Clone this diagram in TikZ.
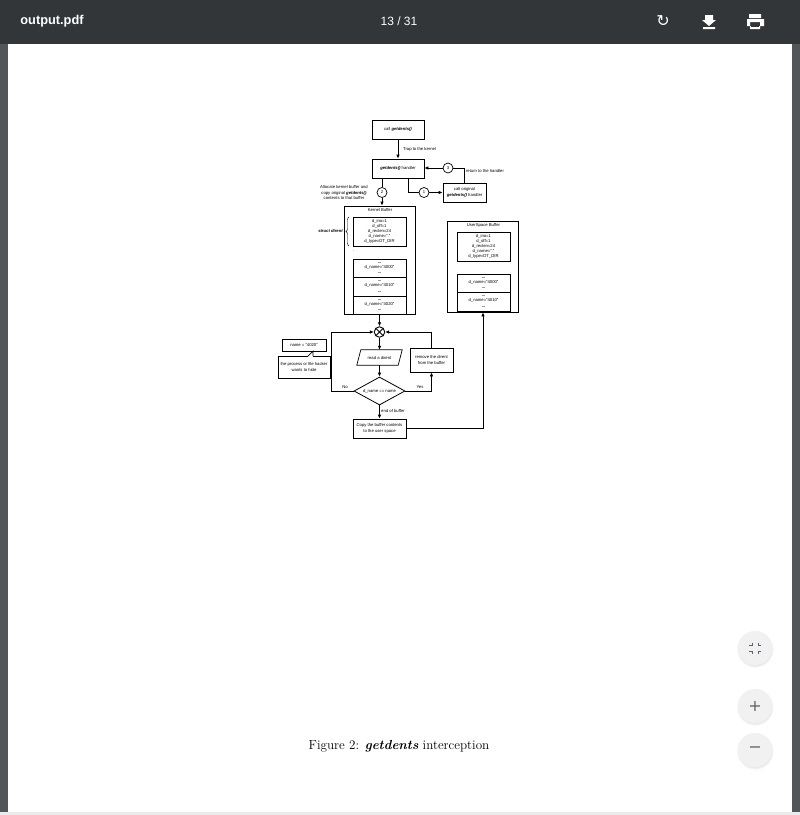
\documentclass[tikz,border=0pt]{standalone}
\usepackage{fontspec}
\setmainfont{Liberation Sans}
\newfontfamily\capfont{Latin Modern Roman}
\newfontfamily\uifont{Liberation Sans}
\newfontfamily\symfont{DejaVu Sans}
\usetikzlibrary{shapes.geometric, arrows.meta, positioning, calc, decorations.pathreplacing, shadows}
\definecolor{barraVisor}{HTML}{323639}
\definecolor{bordeVisor}{HTML}{525659}
\definecolor{botonVisor}{HTML}{F1F1F1}
\definecolor{iconoVisor}{HTML}{5F6368}

\begin{document}
\begin{tikzpicture}[x=1pt, y=-1pt, font=\fontsize{4.2}{5.2}\selectfont, >=Latex,
        box/.style={draw, line width=0.8pt, align=center, inner sep=0pt},
        cell/.style={box, minimum width=53pt},
        num/.style={draw, circle, line width=0.7pt, minimum size=10pt, inner sep=0pt, fill=white},
        lbl/.style={align=center, inner sep=0pt},
        flow/.style={-{Latex[length=4pt,width=3.6pt]}, line width=0.8pt},
        seg/.style={line width=0.8pt},
        boton/.style={circle, fill=botonVisor, circular drop shadow={shadow xshift=0pt, shadow yshift=-1pt, opacity=0.18}, minimum size=34pt, inner sep=0pt, text=iconoVisor}]
        \useasboundingbox (0,0) rectangle (800,815);
        % visor
        \fill[bordeVisor] (0,0) rectangle (800,815);
        \fill[white] (8,44) rectangle (792,812);
        \fill[black!8] (0,812) rectangle (800,815);
        \fill[barraVisor] (0,0) rectangle (800,44);
        \node[text=white, font=\uifont\bfseries\fontsize{12.8}{14}\selectfont] (file) at (52,21) {output.pdf};
        \node[text=white, font=\uifont\fontsize{12}{14}\selectfont] (page) at (399,21) {13 / 31};
        \node[text=white, font=\symfont\fontsize{16}{16}\selectfont] (rot) at (663,21) {↻};
        \fill[white] (705,15) rectangle (713,20) (702,20) -- (716,20) -- (709,26) -- cycle (703,27) rectangle (715,29);
        \fill[white, even odd rule] (749,14) rectangle (761,18) (747,19) rectangle (764,26) (750,22) rectangle (760,29);
        \fill[white] (751,24) rectangle (759,28);
        \fill[barraVisor] (751,24) rectangle (759,26.5);
        \node[boton] (fit) at (755,648) {};
        \draw[iconoVisor, line width=1pt] (749,645) -- (752,645) -- (752,642.5) (758,642.5) -- (758,645) -- (761,645) (749,651) -- (752,651) -- (752,653.5) (758,653.5) -- (758,651) -- (761,651);
        \node[boton, font=\symfont\fontsize{16}{16}\selectfont] (plus) at (755,706) {+};
        \node[boton, font=\symfont\fontsize{16}{16}\selectfont] (minus) at (755,750) {−};
        \node[font=\capfont\fontsize{13.1}{15}\selectfont] (cap) at (399,746) {Figure 2: \textbf{\textit{getdents}} interception};
        % arriba
        \node[box, minimum width=52pt, minimum height=19pt] (call) at (398,129.5) {call \textbf{\textit{getdents()}}};
        \node[box, minimum width=52pt, minimum height=19pt] (hand) at (398,168.5) {\textbf{\textit{getdents()}} handler};
        \node[box, minimum width=43pt, minimum height=19pt] (orig) at (464.5,192.5) {call original\\\textbf{\textit{getdents()}} handler};
        \node[num] (n3) at (448,168) {3};
        \node[num] (n1) at (424,192.5) {1};
        \node[num] (n2) at (382,192.5) {2};
        \node[lbl] (trap) at (419.5,149) {Trap to the kernel};
        \node[lbl] (ret) at (485,171) {return to the handler};
        \node[lbl] (alloc) at (344,192.5) {Allocate kernel buffer and\\copy original \textbf{\textit{getdents()}}\\contents to that buffer};
        % kernel
        \node[box, minimum width=71pt, minimum height=108pt] (kbuf) at (379.5,260) {};
        \node[lbl] (ktit) at (380,210) {Kernel Buffer};
        \node[cell, minimum height=29pt] (kd) at (379.5,231.5) {d\_ino=1\\d\_off=1\\d\_reclen=24\\d\_name="."\\d\_type=DT\_DIR};
        \node[lbl] (dots) at (353.5,251) {.};
        \node[cell, minimum height=18pt] (k1) at (379.5,268) {\textbf{...}\\d\_name="4000"\\\textbf{...}};
        \node[cell, minimum height=19pt] (k2) at (379.5,286.5) {\textbf{...}\\d\_name="4010"\\\textbf{...}};
        \node[cell, minimum height=18pt] (k3) at (379.5,305) {\textbf{...}\\d\_name="4020"\\\textbf{...}};
        \node[lbl, font=\fontsize{4.2}{5.2}\selectfont\itshape\bfseries] (sd) at (330.5,231) {struct dirent};
        \coordinate (ba) at (349,217);
        \coordinate (bb) at (349,246);
        \draw[line width=0.4pt, decorate, decoration={brace, amplitude=3pt}] (bb) -- (ba);
        % usuario
        \node[box, minimum width=71pt, minimum height=91pt] (ubuf) at (483,266.5) {};
        \node[lbl] (utit) at (483.5,225) {UserSpace Buffer};
        \node[cell, minimum height=29pt] (ud) at (483.5,246.5) {d\_ino=1\\d\_off=1\\d\_reclen=24\\d\_name="."\\d\_type=DT\_DIR};
        \node[cell, minimum height=18pt] (u1) at (483.5,283) {\textbf{...}\\d\_name="4000"\\\textbf{...}};
        \node[cell, minimum height=19pt] (u2) at (483.5,301.5) {\textbf{...}\\d\_name="4010"\\\textbf{...}};
        % bucle
        \node[draw, circle, line width=0.9pt, minimum size=10.5pt, inner sep=0pt,
            path picture={\draw[line width=0.9pt] (path picture bounding box.north west) -- (path picture bounding box.south east) (path picture bounding box.north east) -- (path picture bounding box.south west);}] (x) at (379.5,332) {};
        \node[lbl, minimum width=41pt, minimum height=15pt] (read) at (379.5,357.5) {read a dirent};
        \draw[line width=0.7pt] ($(read.north west)+(2,0)$) -- ($(read.north east)+(2,0)$) -- ($(read.south east)+(-2,0)$) -- ($(read.south west)+(-2,0)$) -- cycle;
        \node[draw, diamond, aspect=2, line width=0.8pt, minimum width=51pt, minimum height=28pt, inner sep=0pt] (cmp) at (379.5,391) {d\_name == name};
        \node[box, minimum width=43pt, minimum height=24pt] (rem) at (431.5,360) {remove the dirent\\from the buffer};
        \node[box, minimum width=53pt, minimum height=19pt] (copy) at (379.5,428.5) {Copy the buffer contents\\to the user space};
        \node[lbl] (no) at (345,387) {No};
        \node[lbl] (yes) at (420,387) {Yes};
        \node[lbl] (eob) at (393,411) {end of buffer};
        \node[box, line width=0.7pt, minimum width=52pt, minimum height=22pt] (proc) at (304,367) {the process or file hacker\\wants to hide};
        \node[box, line width=0.7pt, minimum width=44pt, minimum height=12pt] (nm) at (304,345) {name = "4020"};
        \coordinate (pa) at (308,356);
        \coordinate (pb) at (313,351);
        \coordinate (pc) at (313,356);
        \draw[white, line width=1pt] (pa) -- (pc);
        \draw[line width=0.7pt] (pa) -- (pb) -- (pc);
        % flechas
        \draw[flow] (call) -- (hand);
        \draw[seg] (orig.north) -- (orig.north |- n3) -- (n3);
        \draw[flow] (n3) -- (hand.east |- n3);
        \draw[seg] ($(hand.south)+(10,0)$) |- (n1);
        \draw[flow] (n1) -- (orig);
        \draw[seg] (n2 |- hand.south) -- (n2);
        \draw[flow] (n2) -- (n2 |- kbuf.north);
        \draw[flow] (kbuf.south) -- (x);
        \draw[flow] (x) -- (read);
        \draw[flow] (read) -- (cmp);
        \draw[flow] (cmp) -- (copy);
        \draw[flow] (cmp.west) -- ++(-22,0) |- (x.west);
        \draw[flow] (cmp.east) -| (rem.south);
        \draw[flow] (rem.north) |- (x.east);
        \draw[flow] (copy.east) -| (ubuf.south);
\end{tikzpicture}
\end{document}
